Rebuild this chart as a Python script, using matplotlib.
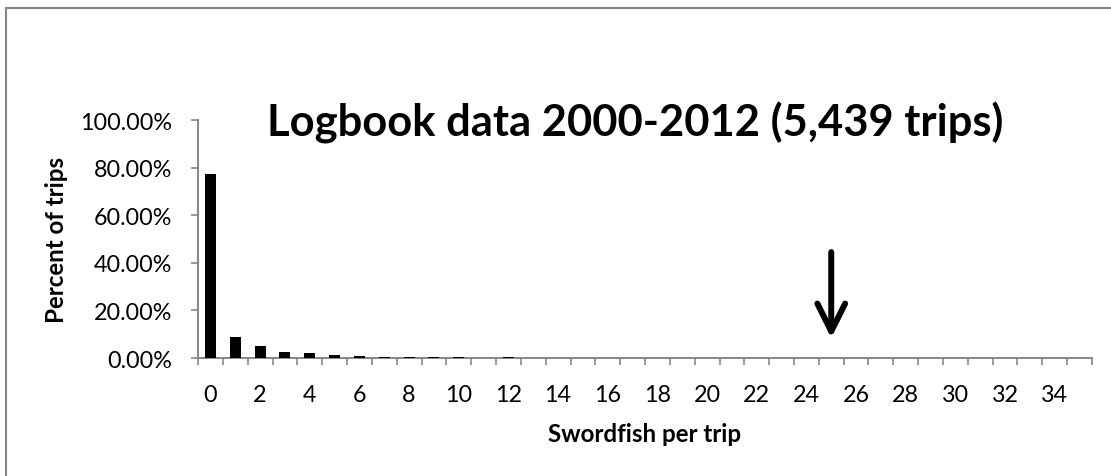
import matplotlib
matplotlib.use("Agg")
import matplotlib.pyplot as plt
from matplotlib.lines import Line2D
from matplotlib.ticker import FuncFormatter

# share of trips by number of swordfish caught (0..35)
swordfish = list(range(36))
pct_trips = [0.772, 0.087, 0.049, 0.026, 0.020, 0.012, 0.009, 0.006, 0.004, 0.0035,
             0.004, 0.001, 0.003, 0.001, 0.001, 0.001, 0.001, 0.001, 0.001, 0.0,
             0.0, 0.0005, 0.0005, 0.0005, 0.0, 0.0005, 0.0, 0.0, 0.0, 0.0,
             0.0, 0.0, 0.0, 0.0, 0.0, 0.0]
y_ticks = [0.0, 0.2, 0.4, 0.6, 0.8, 1.0]
x_labels = [str(v) for v in swordfish if v % 2 == 0 and v < 35]
title = "Logbook data 2000-2012 (5,439 trips)"
xlabel = "Swordfish per trip"
ylabel = "Percent of trips"
arrow_at = 25

GRAY = "#868686"
W, H = 1111, 477
plt.rcParams['font.family'] = ['Lato', 'DejaVu Sans']

fig = plt.figure(figsize=(W / 100, H / 100), dpi=100)
renderer = fig.canvas.get_renderer()


def fit_size(text, target_px, weight="normal", base=20.0):
    # font size (pt) that makes `text` about target_px wide
    t = fig.text(0, 0, text, fontsize=base, fontweight=weight)
    w = t.get_window_extent(renderer).width
    t.remove()
    return base * target_px / w


def fx(px):
    return px / W


def fy(px):
    return 1 - px / H


tick_fs = fit_size("100.00%", 92)
label_fs = fit_size(ylabel, 167, "bold")
title_fs = fit_size(title, 736, "bold")

ax = fig.add_axes([fx(198), fy(359), fx(1092) - fx(198), fy(121) - fy(359)])

ax.bar(swordfish, pct_trips, width=0.44, color="black", zorder=3)

ax.set_xlim(-0.5, len(swordfish) - 0.5)
ax.set_ylim(0, 1.0)
ax.set_yticks(y_ticks)
ax.yaxis.set_major_formatter(FuncFormatter(lambda v, p: f"{v*100:.2f}%"))

# excel-style: tick marks between categories, labels on every other one
ax.set_xticks([v - 0.5 for v in swordfish] + [len(swordfish) - 0.5])
ax.set_xticklabels([])
ax.set_xticks([v for v in swordfish if v % 2 == 0 and v < 35], x_labels, minor=True)
ax.tick_params(axis="x", which="major", length=5, width=1.2, color=GRAY, direction="out")
ax.tick_params(axis="x", which="minor", length=0, pad=31, labelsize=tick_fs)
for lab in ax.get_xticklabels(minor=True):
    lab.set_verticalalignment("baseline")
ax.tick_params(axis="y", length=5, width=1.2, color=GRAY, direction="out",
               pad=13.5, labelsize=tick_fs)

for s in ("top", "right"):
    ax.spines[s].set_visible(False)
for s in ("left", "bottom"):
    ax.spines[s].set_color(GRAY)
    ax.spines[s].set_linewidth(1.4)

fig.text(fx(57), fy(240), ylabel, fontsize=label_fs, fontweight="bold",
         rotation=90, ha="center", va="center")
fig.text(fx(645), fy(442), xlabel, fontsize=label_fs, fontweight="bold",
         ha="center", va="baseline")
fig.text(fx(635), fy(137), title, fontsize=title_fs, fontweight="bold",
         ha="center", va="baseline")

ax.annotate("", xy=(arrow_at, 0.084), xytext=(arrow_at, 0.445),
            arrowprops=dict(arrowstyle="->,head_length=1.0,head_width=0.5",
                            lw=4.3, color="black", mutation_scale=20,
                            shrinkA=0, shrinkB=0), zorder=5)

# chart frame (left and top edges only)
fig.add_artist(Line2D([fx(6), fx(6)], [0, fy(9)], color=GRAY, lw=1.5))
fig.add_artist(Line2D([fx(6), 1], [fy(9), fy(9)], color=GRAY, lw=1.5))

fig.savefig("out.png", dpi=100)
